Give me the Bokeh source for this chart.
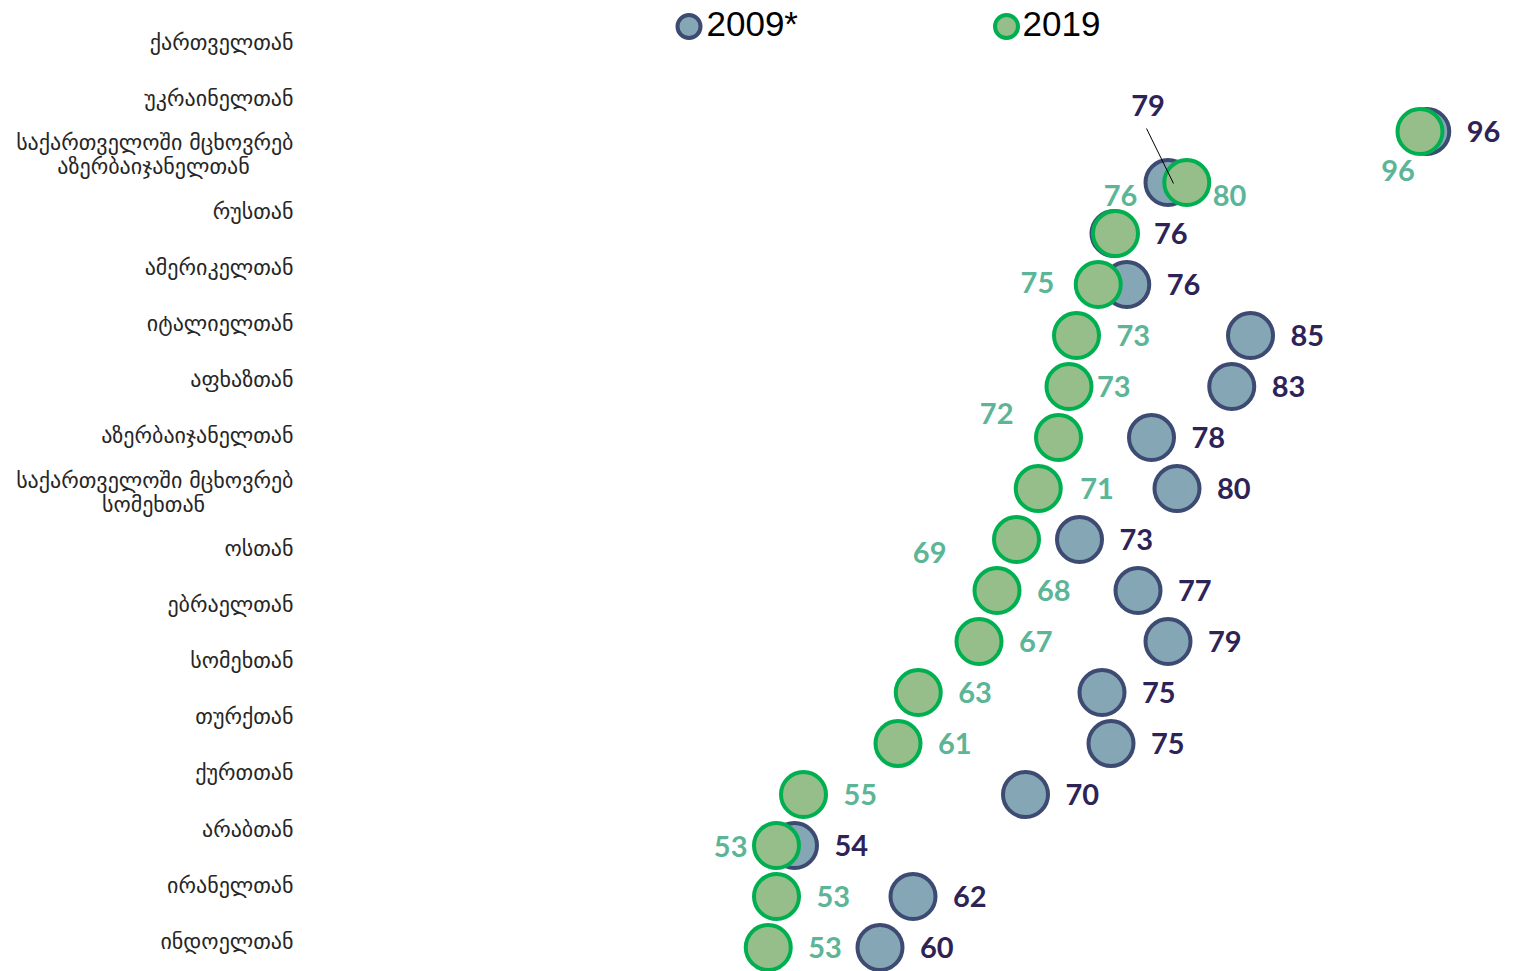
from bokeh.plotting import figure
from bokeh.models import Range1d, ColumnDataSource
from bokeh.core.properties import value
from bokeh.embed import file_html
from bokeh.resources import INLINE

# ---------------- data ----------------
categories = [
    "ქართველთან",
    "უკრაინელთან",
    "საქართველოში მცხოვრებ\nაზერბაიჯანელთან",
    "რუსთან",
    "ამერიკელთან",
    "იტალიელთან",
    "აფხაზთან",
    "აზერბაიჯანელთან",
    "საქართველოში მცხოვრებ\nსომეხთან",
    "ოსთან",
    "ებრაელთან",
    "სომეხთან",
    "თურქთან",
    "ქურთთან",
    "არაბთან",
    "ირანელთან",
    "ინდოელთან",
]
series_names = ["2009*", "2019"]
values_2009 = [96.45, 79.2, 75.6, 76.45, 84.7, 83.45, 78.1, 79.8, 73.3, 77.2,
               79.2, 74.8, 75.4, 69.7, 54.3, 62.2, 60.0]
values_2019 = [96.0, 80.45, 75.7, 74.55, 73.1, 72.6, 71.9, 70.55, 69.1, 67.8,
               66.6, 62.55, 61.2, 54.9, 53.1, 53.1, 52.55]

# ---------------- styling / layout ----------------
W, H = 1519, 971
PX_UNIT = 15.0      # pixels per value unit
PX_ROW = 51.0       # pixels per dot row
PX_LAB = 56.19      # pixels per label row

def vx(px):   # canvas x -> value
    return (px + 20.5) / PX_UNIT

def ry(py):   # canvas y -> dot row
    return (py - 131) / PX_ROW

def ly(py):   # canvas y -> label row
    return (py - 42) / PX_LAB

C09_FILL, C09_LINE, C09_TXT = "#85a6b5", "#3d4b73", "#2d2357"
C19_FILL, C19_LINE, C19_TXT = "#96be8a", "#00b050", "#5cb596"

# label placement (align, dx px, dy px) – default to the right of the dot
place_2009 = {1: ("center", -20, -77)}
place_2019 = {0: ("center", -22, 39), 1: ("left", 26, 13), 2: ("center", 5, -38),
              3: ("right", -44, -2), 5: ("left", 28, 0), 6: ("right", -45, -24),
              7: ("left", 42, 0), 8: ("right", -70, 13), 14: ("right", -29, 1)}

p = figure(width=W, height=H, output_backend="svg", toolbar_location=None,
           x_range=Range1d(vx(0), vx(W)),
           y_range=Range1d(ry(H), ry(0)),
           x_axis_location=None, y_axis_location=None, min_border=0,
           outline_line_color=None, background_fill_color="white",
           border_fill_color="white")
p.extra_y_ranges = {"lab": Range1d(ly(H), ly(0))}
p.xgrid.visible = False
p.ygrid.visible = False

rows = list(range(len(categories)))

def label_source(vals, place):
    al, dx, dy = [], [], []
    for i in rows:
        a, x_, y_ = place.get(i, ("left", 40, 0))
        al.append(a); dx.append(x_); dy.append(y_)
    return ColumnDataSource(dict(x=vals, y=rows, t=[str(round(v)) for v in vals],
                                 al=al, dx=dx, dy=dy))

src09 = label_source(values_2009, place_2009)
src19 = label_source(values_2019, place_2019)

p.scatter(x="x", y="y", source=src09, size=45, fill_color=C09_FILL,
          line_color=C09_LINE, line_width=4)
p.scatter(x="x", y="y", source=src19, size=45, fill_color=C19_FILL,
          line_color=C19_LINE, line_width=4)

# leader line for the 2009 label of row 1
lead_i = 1
p.segment(x0=[values_2009[lead_i] - 21.5 / PX_UNIT], y0=[lead_i - 54 / PX_ROW],
          x1=[values_2009[lead_i] + 5.5 / PX_UNIT], y1=[lead_i + 1 / PX_ROW],
          line_color="black", line_width=1)

num_font = value("Lato")
for src, col in ((src09, C09_TXT), (src19, C19_TXT)):
    p.text(x="x", y="y", text="t", source=src, text_align="al",
           x_offset="dx", y_offset="dy", text_baseline="middle",
           text_color=col, text_font=num_font, text_font_size="29px",
           text_font_style="bold")

# category labels
lab_right = vx(293)
lab_center = vx(153)
r_x, r_y, r_t, r_dy = [], [], [], []
c_x, c_y, c_t = [], [], []
for i, c in enumerate(categories):
    parts = c.split("\n")
    if len(parts) == 1:
        r_x.append(lab_right); r_y.append(i); r_t.append(c); r_dy.append(0)
    else:
        r_x.append(lab_right); r_y.append(i); r_t.append(parts[0]); r_dy.append(-12)
        c_x.append(lab_center); c_y.append(i); c_t.append(parts[1])
lab_font = value("DejaVu Sans")
p.text(x=r_x, y=r_y, text=r_t, y_offset=r_dy, y_range_name="lab",
       text_align="right", text_baseline="middle", text_color="#262626",
       text_font=lab_font, text_font_size="22px")
p.text(x=c_x, y=c_y, text=c_t, y_offset=12, y_range_name="lab",
       text_align="center", text_baseline="middle", text_color="#262626",
       text_font=lab_font, text_font_size="22px")

# legend
p.scatter(x=[vx(688.5), vx(1006)], y=[ry(26), ry(26)], size=23,
          fill_color=[C09_FILL, C19_FILL], line_color=[C09_LINE, C19_LINE],
          line_width=4)
p.text(x=[vx(706), vx(1022)], y=[ry(23), ry(23)], text=series_names,
       text_align="left", text_baseline="middle", text_color="black",
       text_font=value("Liberation Sans"), text_font_size="35px")

open("out.html", "w").write(file_html(p, INLINE))
